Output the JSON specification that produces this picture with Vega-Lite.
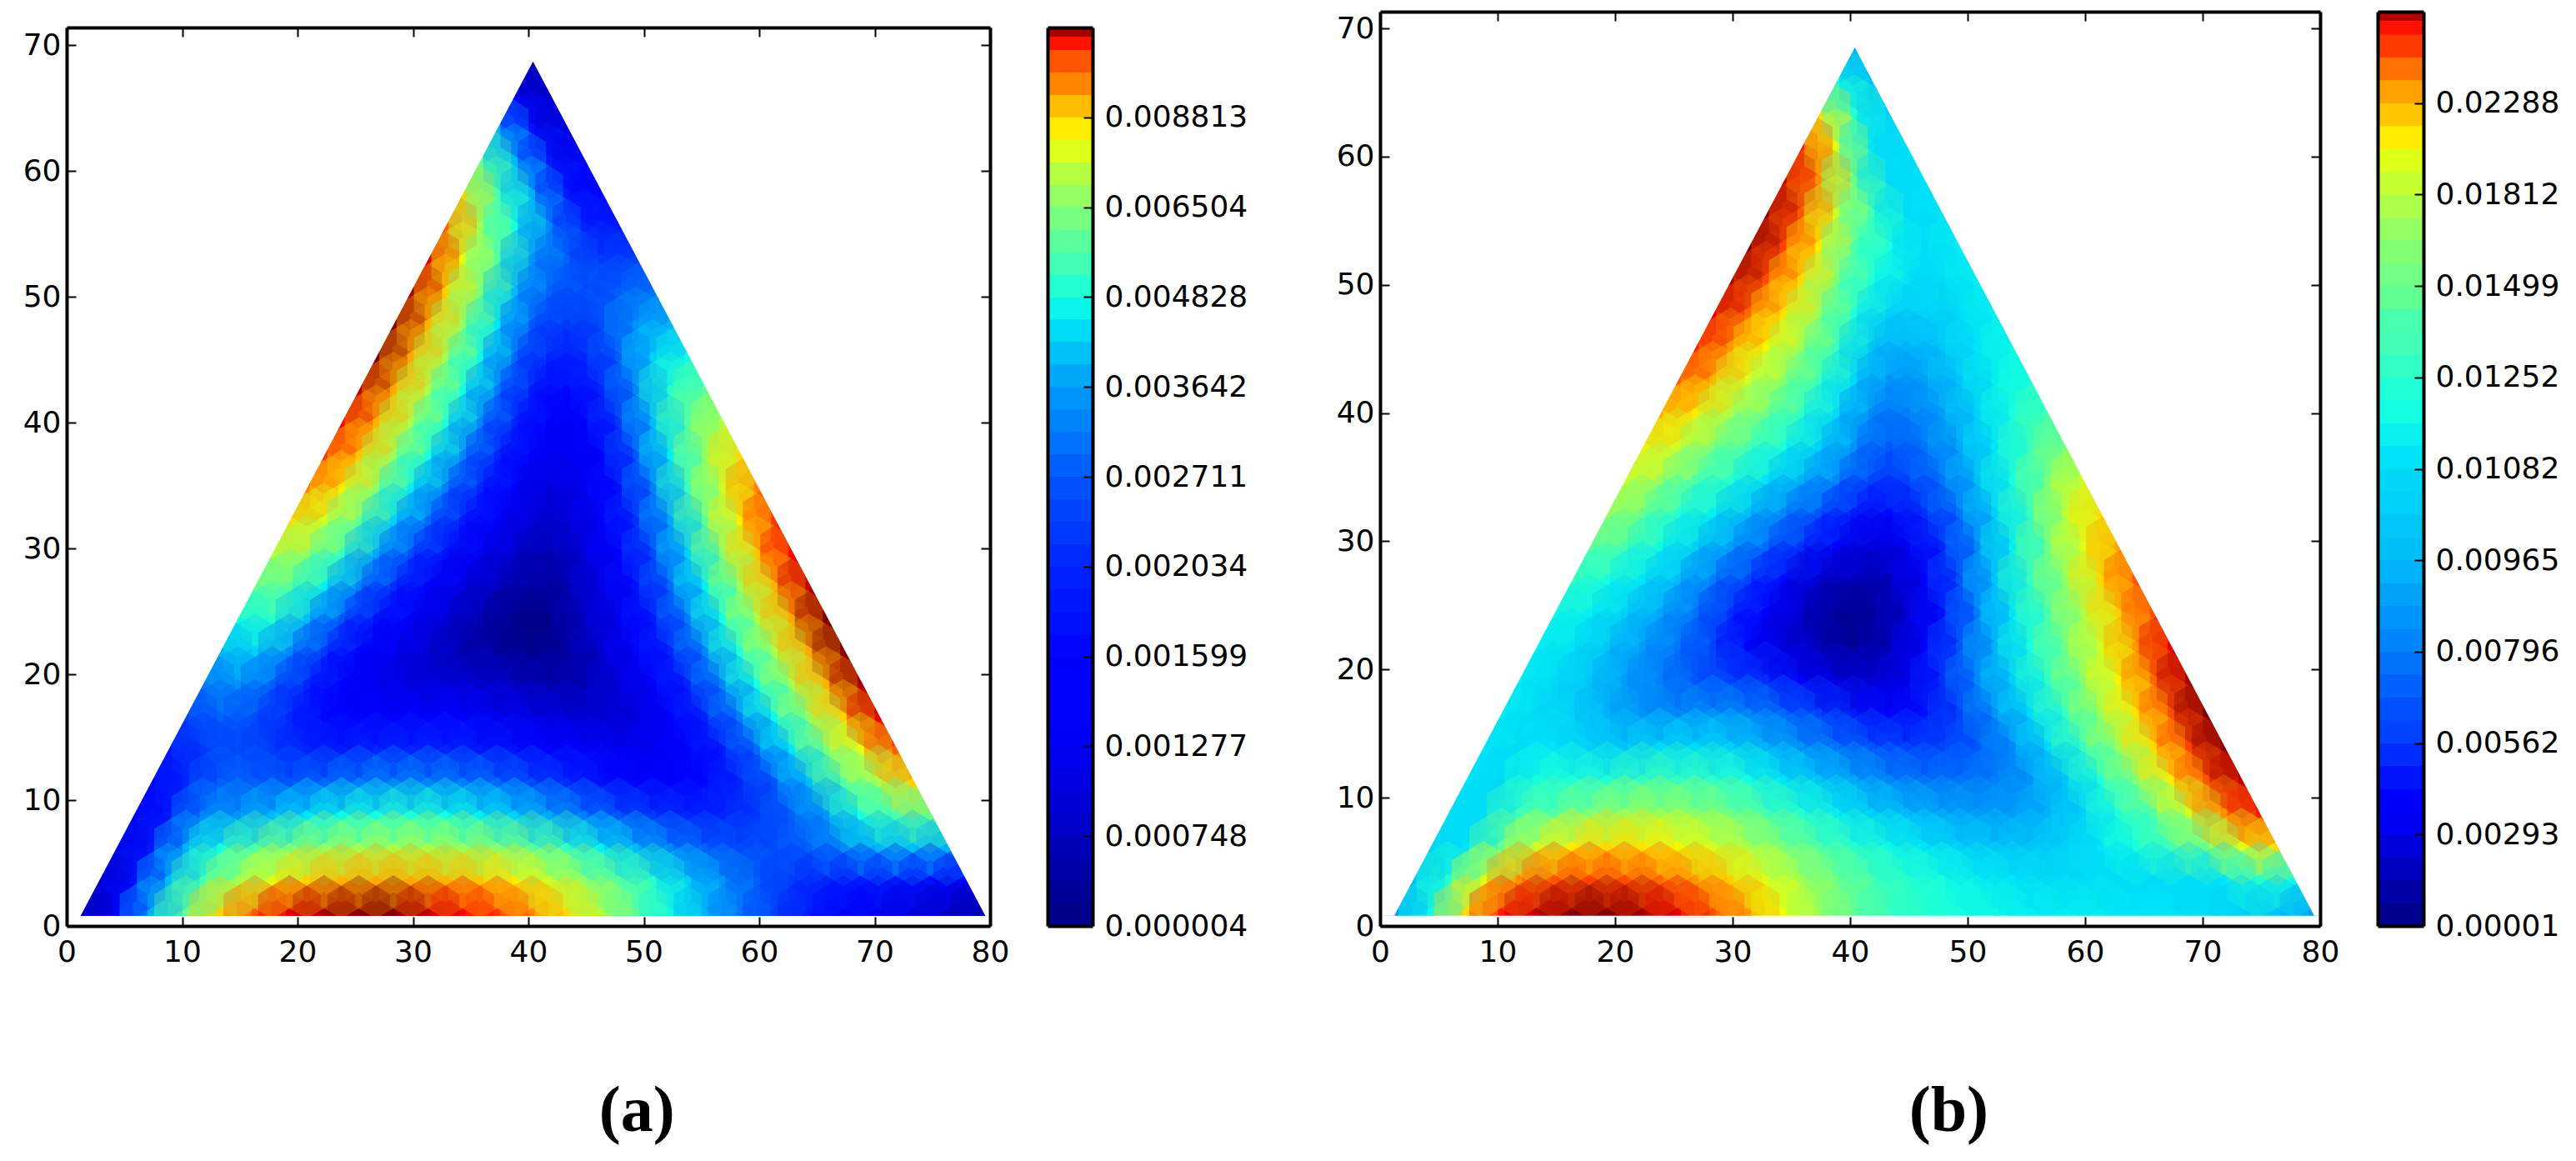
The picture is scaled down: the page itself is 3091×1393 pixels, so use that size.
{"$schema":"https://vega.github.io/schema/vega-lite/v6.json","background":"white","padding":{"left":27,"top":13,"right":5,"bottom":5},"bounds":"flush","spacing":69,
"config":{"view":{"stroke":null},"axis":{"grid":false,"title":null,"labelFont":"DejaVu Sans","labelFontSize":36,"labelColor":"#000","domainColor":"#000","domainWidth":4,"tickColor":"#000","tickWidth":2,"tickSize":11,"labelFlush":false,"labelOverlap":false}},
"datasets":{
"maskA":[{"x":0,"y":0.8},{"x":1.2,"y":0.8},{"x":40.4,"y":68.7},{"x":79.6,"y":0.8},{"x":80,"y":0.8}],
"maskB":[{"x":0,"y":0.8},{"x":1.2,"y":0.8},{"x":40.4,"y":68.5},{"x":79.5,"y":0.8},{"x":80,"y":0.8}],
"base":[{"x":0},{"x":80}],
"barA":[{"p":0,"q":0.25,"c":1},{"p":0.25,"q":0.5,"c":2},{"p":0.5,"q":0.75,"c":3.5},{"p":0.75,"q":1,"c":5},{"p":1,"q":1.25,"c":6.5},{"p":1.25,"q":1.5,"c":7.5},{"p":1.5,"q":1.75,"c":8.5},{"p":1.75,"q":2,"c":9.5},{"p":2,"q":2.25,"c":10.3},{"p":2.25,"q":2.5,"c":11},{"p":2.5,"q":2.75,"c":11.6},{"p":2.75,"q":3,"c":12.2},{"p":3,"q":3.25,"c":13},{"p":3.25,"q":3.5,"c":14},{"p":3.5,"q":3.75,"c":14.8},{"p":3.75,"q":4,"c":15.6},{"p":4,"q":4.25,"c":16.7},{"p":4.25,"q":4.5,"c":18},{"p":4.5,"q":4.75,"c":19.3},{"p":4.75,"q":5,"c":20.5},{"p":5,"q":5.25,"c":22},{"p":5.25,"q":5.5,"c":23.7},{"p":5.5,"q":5.75,"c":25.5},{"p":5.75,"q":6,"c":27},{"p":6,"q":6.25,"c":29},{"p":6.25,"q":6.5,"c":31.5},{"p":6.5,"q":6.75,"c":34},{"p":6.75,"q":7,"c":36.5},{"p":7,"q":7.25,"c":39.5},{"p":7.25,"q":7.5,"c":43},{"p":7.5,"q":7.75,"c":46},{"p":7.75,"q":8,"c":49.5},{"p":8,"q":8.25,"c":53},{"p":8.25,"q":8.5,"c":57},{"p":8.5,"q":8.75,"c":62},{"p":8.75,"q":9,"c":66},{"p":9,"q":9.25,"c":71},{"p":9.25,"q":9.5,"c":77},{"p":9.5,"q":9.75,"c":82},{"p":9.75,"q":9.9,"c":89},{"p":9.9,"q":10,"c":97}],
"barB":[{"p":0,"q":0.25,"c":1.1},{"p":0.25,"q":0.5,"c":3.4},{"p":0.5,"q":0.75,"c":5.6},{"p":0.75,"q":1,"c":7.9},{"p":1,"q":1.25,"c":10},{"p":1.25,"q":1.5,"c":12.5},{"p":1.5,"q":1.75,"c":14.5},{"p":1.75,"q":2,"c":16.8},{"p":2,"q":2.25,"c":19},{"p":2.25,"q":2.5,"c":20.5},{"p":2.5,"q":2.75,"c":22},{"p":2.75,"q":3,"c":24},{"p":3,"q":3.25,"c":25.7},{"p":3.25,"q":3.5,"c":27},{"p":3.5,"q":3.75,"c":28.5},{"p":3.75,"q":4,"c":30},{"p":4,"q":4.25,"c":31.4},{"p":4.25,"q":4.5,"c":32},{"p":4.5,"q":4.75,"c":33},{"p":4.75,"q":5,"c":33.6},{"p":5,"q":5.25,"c":34.7},{"p":5.25,"q":5.5,"c":36},{"p":5.5,"q":5.75,"c":37.5},{"p":5.75,"q":6,"c":39},{"p":6,"q":6.25,"c":41},{"p":6.25,"q":6.5,"c":43},{"p":6.5,"q":6.75,"c":44},{"p":6.75,"q":7,"c":47},{"p":7,"q":7.25,"c":49},{"p":7.25,"q":7.5,"c":51},{"p":7.5,"q":7.75,"c":53},{"p":7.75,"q":8,"c":56},{"p":8,"q":8.25,"c":59},{"p":8.25,"q":8.5,"c":62},{"p":8.5,"q":8.75,"c":66},{"p":8.75,"q":9,"c":70},{"p":9,"q":9.25,"c":74},{"p":9.25,"q":9.5,"c":79},{"p":9.5,"q":9.75,"c":85},{"p":9.75,"q":9.9,"c":89},{"p":9.9,"q":10,"c":96}],
"a":[
{"x":1.3,"y":1,"c":3},{"x":4.3,"y":1,"c":12},{"x":7.3,"y":1,"c":30},{"x":10.3,"y":1,"c":48},{"x":13.3,"y":1,"c":69},{"x":16.3,"y":1,"c":81},{"x":19.3,"y":1,"c":92},{"x":22.3,"y":1,"c":97},{"x":25.3,"y":1,"c":99},{"x":28.3,"y":1,"c":100},{"x":31.3,"y":1,"c":95},{"x":34.3,"y":1,"c":90},{"x":37.3,"y":1,"c":85},{"x":40.3,"y":1,"c":77},{"x":43.3,"y":1,"c":68},{"x":46.3,"y":1,"c":57},{"x":49.3,"y":1,"c":47},{"x":52.3,"y":1,"c":37},{"x":55.3,"y":1,"c":30},{"x":58.3,"y":1,"c":24},{"x":61.3,"y":1,"c":19},{"x":64.3,"y":1,"c":15},{"x":67.3,"y":1,"c":12},{"x":70.3,"y":1,"c":10},{"x":73.3,"y":1,"c":8},{"x":76.3,"y":1,"c":6},{"x":79.3,"y":1,"c":3},
{"x":2.8,"y":3.6,"c":6},{"x":5.8,"y":3.6,"c":14},{"x":8.8,"y":3.6,"c":31},{"x":11.8,"y":3.6,"c":44},{"x":14.8,"y":3.6,"c":55},{"x":17.8,"y":3.6,"c":63},{"x":20.8,"y":3.6,"c":69},{"x":23.8,"y":3.6,"c":72},{"x":26.8,"y":3.6,"c":73},{"x":29.8,"y":3.6,"c":73},{"x":32.8,"y":3.6,"c":72},{"x":35.8,"y":3.6,"c":70},{"x":38.8,"y":3.6,"c":66},{"x":41.8,"y":3.6,"c":60},{"x":44.8,"y":3.6,"c":53},{"x":47.8,"y":3.6,"c":46},{"x":50.8,"y":3.6,"c":40},{"x":53.8,"y":3.6,"c":33},{"x":56.8,"y":3.6,"c":27},{"x":59.8,"y":3.6,"c":22},{"x":62.8,"y":3.6,"c":18},{"x":65.8,"y":3.6,"c":16},{"x":68.8,"y":3.6,"c":15},{"x":71.8,"y":3.6,"c":15},{"x":74.8,"y":3.6,"c":14},{"x":77.8,"y":3.6,"c":12},
{"x":4.3,"y":6.2,"c":8},{"x":7.3,"y":6.2,"c":15},{"x":10.3,"y":6.2,"c":30},{"x":13.3,"y":6.2,"c":38},{"x":16.3,"y":6.2,"c":45},{"x":19.3,"y":6.2,"c":50},{"x":22.3,"y":6.2,"c":53},{"x":25.3,"y":6.2,"c":55},{"x":28.3,"y":6.2,"c":56},{"x":31.3,"y":6.2,"c":56},{"x":34.3,"y":6.2,"c":54},{"x":37.3,"y":6.2,"c":52},{"x":40.3,"y":6.2,"c":47},{"x":43.3,"y":6.2,"c":42},{"x":46.3,"y":6.2,"c":36},{"x":49.3,"y":6.2,"c":31},{"x":52.3,"y":6.2,"c":26},{"x":55.3,"y":6.2,"c":22},{"x":58.3,"y":6.2,"c":20},{"x":61.3,"y":6.2,"c":20},{"x":64.3,"y":6.2,"c":22},{"x":67.3,"y":6.2,"c":26},{"x":70.3,"y":6.2,"c":30},{"x":73.3,"y":6.2,"c":31},{"x":76.3,"y":6.2,"c":30},
{"x":5.8,"y":8.8,"c":10},{"x":8.8,"y":8.8,"c":15},{"x":11.8,"y":8.8,"c":26},{"x":14.8,"y":8.8,"c":27},{"x":17.8,"y":8.8,"c":31},{"x":20.8,"y":8.8,"c":35},{"x":23.8,"y":8.8,"c":37},{"x":26.8,"y":8.8,"c":38},{"x":29.8,"y":8.8,"c":39},{"x":32.8,"y":8.8,"c":38},{"x":35.8,"y":8.8,"c":36},{"x":38.8,"y":8.8,"c":33},{"x":41.8,"y":8.8,"c":29},{"x":44.8,"y":8.8,"c":25},{"x":47.8,"y":8.8,"c":21},{"x":50.8,"y":8.8,"c":18},{"x":53.8,"y":8.8,"c":16},{"x":56.8,"y":8.8,"c":16},{"x":59.8,"y":8.8,"c":18},{"x":62.8,"y":8.8,"c":22},{"x":65.8,"y":8.8,"c":27},{"x":68.8,"y":8.8,"c":38},{"x":71.8,"y":8.8,"c":44},{"x":74.8,"y":8.8,"c":48},
{"x":7.3,"y":11.4,"c":12},{"x":10.3,"y":11.4,"c":16},{"x":13.3,"y":11.4,"c":22},{"x":16.3,"y":11.4,"c":22},{"x":19.3,"y":11.4,"c":21},{"x":22.3,"y":11.4,"c":23},{"x":25.3,"y":11.4,"c":25},{"x":28.3,"y":11.4,"c":26},{"x":31.3,"y":11.4,"c":26},{"x":34.3,"y":11.4,"c":25},{"x":37.3,"y":11.4,"c":23},{"x":40.3,"y":11.4,"c":20},{"x":43.3,"y":11.4,"c":17},{"x":46.3,"y":11.4,"c":14},{"x":49.3,"y":11.4,"c":12},{"x":52.3,"y":11.4,"c":12},{"x":55.3,"y":11.4,"c":13},{"x":58.3,"y":11.4,"c":16},{"x":61.3,"y":11.4,"c":21},{"x":64.3,"y":11.4,"c":31},{"x":67.3,"y":11.4,"c":45},{"x":70.3,"y":11.4,"c":55},{"x":73.3,"y":11.4,"c":69},
{"x":8.8,"y":14,"c":15},{"x":11.8,"y":14,"c":18},{"x":14.8,"y":14,"c":20},{"x":17.8,"y":14,"c":18},{"x":20.8,"y":14,"c":16},{"x":23.8,"y":14,"c":15},{"x":26.8,"y":14,"c":16},{"x":29.8,"y":14,"c":16},{"x":32.8,"y":14,"c":16},{"x":35.8,"y":14,"c":15},{"x":38.8,"y":14,"c":14},{"x":41.8,"y":14,"c":12},{"x":44.8,"y":14,"c":11},{"x":47.8,"y":14,"c":10},{"x":50.8,"y":14,"c":10},{"x":53.8,"y":14,"c":11},{"x":56.8,"y":14,"c":15},{"x":59.8,"y":14,"c":23},{"x":62.8,"y":14,"c":35},{"x":65.8,"y":14,"c":50},{"x":68.8,"y":14,"c":63},{"x":71.8,"y":14,"c":81},
{"x":10.3,"y":16.6,"c":19},{"x":13.3,"y":16.6,"c":22},{"x":16.3,"y":16.6,"c":20},{"x":19.3,"y":16.6,"c":16},{"x":22.3,"y":16.6,"c":13},{"x":25.3,"y":16.6,"c":11},{"x":28.3,"y":16.6,"c":11},{"x":31.3,"y":16.6,"c":12},{"x":34.3,"y":16.6,"c":11},{"x":37.3,"y":16.6,"c":10},{"x":40.3,"y":16.6,"c":9},{"x":43.3,"y":16.6,"c":8},{"x":46.3,"y":16.6,"c":7},{"x":49.3,"y":16.6,"c":8},{"x":52.3,"y":16.6,"c":11},{"x":55.3,"y":16.6,"c":16},{"x":58.3,"y":16.6,"c":25},{"x":61.3,"y":16.6,"c":37},{"x":64.3,"y":16.6,"c":53},{"x":67.3,"y":16.6,"c":69},{"x":70.3,"y":16.6,"c":92},
{"x":11.8,"y":19.2,"c":24},{"x":14.8,"y":19.2,"c":27},{"x":17.8,"y":19.2,"c":22},{"x":20.8,"y":19.2,"c":16},{"x":23.8,"y":19.2,"c":12},{"x":26.8,"y":19.2,"c":10},{"x":29.8,"y":19.2,"c":8},{"x":32.8,"y":19.2,"c":8},{"x":35.8,"y":19.2,"c":7},{"x":38.8,"y":19.2,"c":6},{"x":41.8,"y":19.2,"c":4},{"x":44.8,"y":19.2,"c":4},{"x":47.8,"y":19.2,"c":8},{"x":50.8,"y":19.2,"c":12},{"x":53.8,"y":19.2,"c":16},{"x":56.8,"y":19.2,"c":26},{"x":59.8,"y":19.2,"c":38},{"x":62.8,"y":19.2,"c":55},{"x":65.8,"y":19.2,"c":72},{"x":68.8,"y":19.2,"c":97},
{"x":13.3,"y":21.8,"c":30},{"x":16.3,"y":21.8,"c":33},{"x":19.3,"y":21.8,"c":26},{"x":22.3,"y":21.8,"c":18},{"x":25.3,"y":21.8,"c":12},{"x":28.3,"y":21.8,"c":10},{"x":31.3,"y":21.8,"c":7},{"x":34.3,"y":21.8,"c":4},{"x":37.3,"y":21.8,"c":3},{"x":40.3,"y":21.8,"c":1},{"x":43.3,"y":21.8,"c":3},{"x":46.3,"y":21.8,"c":7},{"x":49.3,"y":21.8,"c":11},{"x":52.3,"y":21.8,"c":16},{"x":55.3,"y":21.8,"c":26},{"x":58.3,"y":21.8,"c":39},{"x":61.3,"y":21.8,"c":56},{"x":64.3,"y":21.8,"c":73},{"x":67.3,"y":21.8,"c":99},
{"x":14.8,"y":24.4,"c":37},{"x":17.8,"y":24.4,"c":40},{"x":20.8,"y":24.4,"c":31},{"x":23.8,"y":24.4,"c":21},{"x":26.8,"y":24.4,"c":14},{"x":29.8,"y":24.4,"c":11},{"x":32.8,"y":24.4,"c":8},{"x":35.8,"y":24.4,"c":4},{"x":38.8,"y":24.4,"c":1},{"x":41.8,"y":24.4,"c":1},{"x":44.8,"y":24.4,"c":6},{"x":47.8,"y":24.4,"c":10},{"x":50.8,"y":24.4,"c":15},{"x":53.8,"y":24.4,"c":25},{"x":56.8,"y":24.4,"c":38},{"x":59.8,"y":24.4,"c":56},{"x":62.8,"y":24.4,"c":73},{"x":65.8,"y":24.4,"c":100},
{"x":16.3,"y":27,"c":47},{"x":19.3,"y":27,"c":46},{"x":22.3,"y":27,"c":36},{"x":25.3,"y":27,"c":25},{"x":28.3,"y":27,"c":17},{"x":31.3,"y":27,"c":12},{"x":34.3,"y":27,"c":9},{"x":37.3,"y":27,"c":6},{"x":40.3,"y":27,"c":3},{"x":43.3,"y":27,"c":4},{"x":46.3,"y":27,"c":9},{"x":49.3,"y":27,"c":14},{"x":52.3,"y":27,"c":23},{"x":55.3,"y":27,"c":36},{"x":58.3,"y":27,"c":54},{"x":61.3,"y":27,"c":72},{"x":64.3,"y":27,"c":95},
{"x":17.8,"y":29.6,"c":57},{"x":20.8,"y":29.6,"c":53},{"x":23.8,"y":29.6,"c":42},{"x":26.8,"y":29.6,"c":29},{"x":29.8,"y":29.6,"c":20},{"x":32.8,"y":29.6,"c":14},{"x":35.8,"y":29.6,"c":10},{"x":38.8,"y":29.6,"c":7},{"x":41.8,"y":29.6,"c":4},{"x":44.8,"y":29.6,"c":8},{"x":47.8,"y":29.6,"c":12},{"x":50.8,"y":29.6,"c":20},{"x":53.8,"y":29.6,"c":33},{"x":56.8,"y":29.6,"c":52},{"x":59.8,"y":29.6,"c":70},{"x":62.8,"y":29.6,"c":90},
{"x":19.3,"y":32.2,"c":68},{"x":22.3,"y":32.2,"c":60},{"x":25.3,"y":32.2,"c":47},{"x":28.3,"y":32.2,"c":33},{"x":31.3,"y":32.2,"c":23},{"x":34.3,"y":32.2,"c":15},{"x":37.3,"y":32.2,"c":11},{"x":40.3,"y":32.2,"c":8},{"x":43.3,"y":32.2,"c":7},{"x":46.3,"y":32.2,"c":11},{"x":49.3,"y":32.2,"c":17},{"x":52.3,"y":32.2,"c":29},{"x":55.3,"y":32.2,"c":47},{"x":58.3,"y":32.2,"c":66},{"x":61.3,"y":32.2,"c":85},
{"x":20.8,"y":34.8,"c":77},{"x":23.8,"y":34.8,"c":66},{"x":26.8,"y":34.8,"c":52},{"x":29.8,"y":34.8,"c":36},{"x":32.8,"y":34.8,"c":25},{"x":35.8,"y":34.8,"c":16},{"x":38.8,"y":34.8,"c":12},{"x":41.8,"y":34.8,"c":8},{"x":44.8,"y":34.8,"c":10},{"x":47.8,"y":34.8,"c":14},{"x":50.8,"y":34.8,"c":25},{"x":53.8,"y":34.8,"c":42},{"x":56.8,"y":34.8,"c":60},{"x":59.8,"y":34.8,"c":77},
{"x":22.3,"y":37.4,"c":85},{"x":25.3,"y":37.4,"c":70},{"x":28.3,"y":37.4,"c":54},{"x":31.3,"y":37.4,"c":38},{"x":34.3,"y":37.4,"c":26},{"x":37.3,"y":37.4,"c":16},{"x":40.3,"y":37.4,"c":11},{"x":43.3,"y":37.4,"c":10},{"x":46.3,"y":37.4,"c":12},{"x":49.3,"y":37.4,"c":21},{"x":52.3,"y":37.4,"c":36},{"x":55.3,"y":37.4,"c":53},{"x":58.3,"y":37.4,"c":68},
{"x":23.8,"y":40,"c":90},{"x":26.8,"y":40,"c":72},{"x":29.8,"y":40,"c":56},{"x":32.8,"y":40,"c":39},{"x":35.8,"y":40,"c":26},{"x":38.8,"y":40,"c":16},{"x":41.8,"y":40,"c":11},{"x":44.8,"y":40,"c":12},{"x":47.8,"y":40,"c":18},{"x":50.8,"y":40,"c":31},{"x":53.8,"y":40,"c":46},{"x":56.8,"y":40,"c":57},
{"x":25.3,"y":42.6,"c":95},{"x":28.3,"y":42.6,"c":73},{"x":31.3,"y":42.6,"c":56},{"x":34.3,"y":42.6,"c":38},{"x":37.3,"y":42.6,"c":25},{"x":40.3,"y":42.6,"c":15},{"x":43.3,"y":42.6,"c":13},{"x":46.3,"y":42.6,"c":16},{"x":49.3,"y":42.6,"c":26},{"x":52.3,"y":42.6,"c":40},{"x":55.3,"y":42.6,"c":47},
{"x":26.8,"y":45.2,"c":100},{"x":29.8,"y":45.2,"c":73},{"x":32.8,"y":45.2,"c":55},{"x":35.8,"y":45.2,"c":37},{"x":38.8,"y":45.2,"c":23},{"x":41.8,"y":45.2,"c":16},{"x":44.8,"y":45.2,"c":16},{"x":47.8,"y":45.2,"c":22},{"x":50.8,"y":45.2,"c":33},{"x":53.8,"y":45.2,"c":37},
{"x":28.3,"y":47.8,"c":99},{"x":31.3,"y":47.8,"c":72},{"x":34.3,"y":47.8,"c":53},{"x":37.3,"y":47.8,"c":35},{"x":40.3,"y":47.8,"c":21},{"x":43.3,"y":47.8,"c":18},{"x":46.3,"y":47.8,"c":20},{"x":49.3,"y":47.8,"c":27},{"x":52.3,"y":47.8,"c":30},
{"x":29.8,"y":50.4,"c":97},{"x":32.8,"y":50.4,"c":69},{"x":35.8,"y":50.4,"c":50},{"x":38.8,"y":50.4,"c":31},{"x":41.8,"y":50.4,"c":22},{"x":44.8,"y":50.4,"c":20},{"x":47.8,"y":50.4,"c":22},{"x":50.8,"y":50.4,"c":24},
{"x":31.3,"y":53,"c":92},{"x":34.3,"y":53,"c":63},{"x":37.3,"y":53,"c":45},{"x":40.3,"y":53,"c":27},{"x":43.3,"y":53,"c":22},{"x":46.3,"y":53,"c":18},{"x":49.3,"y":53,"c":19},
{"x":32.8,"y":55.6,"c":81},{"x":35.8,"y":55.6,"c":55},{"x":38.8,"y":55.6,"c":38},{"x":41.8,"y":55.6,"c":26},{"x":44.8,"y":55.6,"c":16},{"x":47.8,"y":55.6,"c":15},
{"x":34.3,"y":58.2,"c":69},{"x":37.3,"y":58.2,"c":44},{"x":40.3,"y":58.2,"c":30},{"x":43.3,"y":58.2,"c":15},{"x":46.3,"y":58.2,"c":12},
{"x":35.8,"y":60.8,"c":48},{"x":38.8,"y":60.8,"c":31},{"x":41.8,"y":60.8,"c":15},{"x":44.8,"y":60.8,"c":10},
{"x":37.3,"y":63.4,"c":30},{"x":40.3,"y":63.4,"c":14},{"x":43.3,"y":63.4,"c":8},
{"x":38.8,"y":66,"c":12},{"x":41.8,"y":66,"c":6},
{"x":40.3,"y":68.6,"c":3}
],
"b":[
{"x":1.3,"y":1,"c":28},{"x":4.3,"y":1,"c":37},{"x":7.3,"y":1,"c":68},{"x":10.3,"y":1,"c":88},{"x":13.3,"y":1,"c":95},{"x":16.3,"y":1,"c":99},{"x":19.3,"y":1,"c":100},{"x":22.3,"y":1,"c":97},{"x":25.3,"y":1,"c":92},{"x":28.3,"y":1,"c":83},{"x":31.3,"y":1,"c":75},{"x":34.3,"y":1,"c":64},{"x":37.3,"y":1,"c":54},{"x":40.3,"y":1,"c":47},{"x":43.3,"y":1,"c":42},{"x":46.3,"y":1,"c":40},{"x":49.3,"y":1,"c":38},{"x":52.3,"y":1,"c":37},{"x":55.3,"y":1,"c":36},{"x":58.3,"y":1,"c":36},{"x":61.3,"y":1,"c":36},{"x":64.3,"y":1,"c":35},{"x":67.3,"y":1,"c":35},{"x":70.3,"y":1,"c":34},{"x":73.3,"y":1,"c":33},{"x":76.3,"y":1,"c":32},{"x":79.3,"y":1,"c":28},
{"x":2.8,"y":3.6,"c":32},{"x":5.8,"y":3.6,"c":40},{"x":8.8,"y":3.6,"c":62},{"x":11.8,"y":3.6,"c":76},{"x":14.8,"y":3.6,"c":82},{"x":17.8,"y":3.6,"c":84},{"x":20.8,"y":3.6,"c":83},{"x":23.8,"y":3.6,"c":80},{"x":26.8,"y":3.6,"c":75},{"x":29.8,"y":3.6,"c":69},{"x":32.8,"y":3.6,"c":62},{"x":35.8,"y":3.6,"c":55},{"x":38.8,"y":3.6,"c":49},{"x":41.8,"y":3.6,"c":44},{"x":44.8,"y":3.6,"c":40},{"x":47.8,"y":3.6,"c":38},{"x":50.8,"y":3.6,"c":36},{"x":53.8,"y":3.6,"c":35},{"x":56.8,"y":3.6,"c":34},{"x":59.8,"y":3.6,"c":34},{"x":62.8,"y":3.6,"c":34},{"x":65.8,"y":3.6,"c":34},{"x":68.8,"y":3.6,"c":34},{"x":71.8,"y":3.6,"c":35},{"x":74.8,"y":3.6,"c":40},{"x":77.8,"y":3.6,"c":37},
{"x":4.3,"y":6.2,"c":33},{"x":7.3,"y":6.2,"c":35},{"x":10.3,"y":6.2,"c":48},{"x":13.3,"y":6.2,"c":60},{"x":16.3,"y":6.2,"c":66},{"x":19.3,"y":6.2,"c":68},{"x":22.3,"y":6.2,"c":67},{"x":25.3,"y":6.2,"c":65},{"x":28.3,"y":6.2,"c":61},{"x":31.3,"y":6.2,"c":56},{"x":34.3,"y":6.2,"c":50},{"x":37.3,"y":6.2,"c":45},{"x":40.3,"y":6.2,"c":40},{"x":43.3,"y":6.2,"c":37},{"x":46.3,"y":6.2,"c":35},{"x":49.3,"y":6.2,"c":33},{"x":52.3,"y":6.2,"c":32},{"x":55.3,"y":6.2,"c":32},{"x":58.3,"y":6.2,"c":33},{"x":61.3,"y":6.2,"c":35},{"x":64.3,"y":6.2,"c":38},{"x":67.3,"y":6.2,"c":43},{"x":70.3,"y":6.2,"c":48},{"x":73.3,"y":6.2,"c":62},{"x":76.3,"y":6.2,"c":68},
{"x":5.8,"y":8.8,"c":34},{"x":8.8,"y":8.8,"c":34},{"x":11.8,"y":8.8,"c":43},{"x":14.8,"y":8.8,"c":45},{"x":17.8,"y":8.8,"c":51},{"x":20.8,"y":8.8,"c":54},{"x":23.8,"y":8.8,"c":54},{"x":26.8,"y":8.8,"c":52},{"x":29.8,"y":8.8,"c":49},{"x":32.8,"y":8.8,"c":44},{"x":35.8,"y":8.8,"c":40},{"x":38.8,"y":8.8,"c":36},{"x":41.8,"y":8.8,"c":33},{"x":44.8,"y":8.8,"c":31},{"x":47.8,"y":8.8,"c":29},{"x":50.8,"y":8.8,"c":28},{"x":53.8,"y":8.8,"c":28},{"x":56.8,"y":8.8,"c":30},{"x":59.8,"y":8.8,"c":33},{"x":62.8,"y":8.8,"c":39},{"x":65.8,"y":8.8,"c":45},{"x":68.8,"y":8.8,"c":60},{"x":71.8,"y":8.8,"c":76},{"x":74.8,"y":8.8,"c":88},
{"x":7.3,"y":11.4,"c":35},{"x":10.3,"y":11.4,"c":34},{"x":13.3,"y":11.4,"c":38},{"x":16.3,"y":11.4,"c":39},{"x":19.3,"y":11.4,"c":39},{"x":22.3,"y":11.4,"c":42},{"x":25.3,"y":11.4,"c":42},{"x":28.3,"y":11.4,"c":41},{"x":31.3,"y":11.4,"c":38},{"x":34.3,"y":11.4,"c":35},{"x":37.3,"y":11.4,"c":32},{"x":40.3,"y":11.4,"c":29},{"x":43.3,"y":11.4,"c":26},{"x":46.3,"y":11.4,"c":24},{"x":49.3,"y":11.4,"c":24},{"x":52.3,"y":11.4,"c":25},{"x":55.3,"y":11.4,"c":27},{"x":58.3,"y":11.4,"c":32},{"x":61.3,"y":11.4,"c":39},{"x":64.3,"y":11.4,"c":51},{"x":67.3,"y":11.4,"c":66},{"x":70.3,"y":11.4,"c":82},{"x":73.3,"y":11.4,"c":95},
{"x":8.8,"y":14,"c":35},{"x":11.8,"y":14,"c":34},{"x":14.8,"y":14,"c":35},{"x":17.8,"y":14,"c":33},{"x":20.8,"y":14,"c":32},{"x":23.8,"y":14,"c":34},{"x":26.8,"y":14,"c":34},{"x":29.8,"y":14,"c":33},{"x":32.8,"y":14,"c":30},{"x":35.8,"y":14,"c":27},{"x":38.8,"y":14,"c":24},{"x":41.8,"y":14,"c":21},{"x":44.8,"y":14,"c":19},{"x":47.8,"y":14,"c":19},{"x":50.8,"y":14,"c":21},{"x":53.8,"y":14,"c":26},{"x":56.8,"y":14,"c":34},{"x":59.8,"y":14,"c":42},{"x":62.8,"y":14,"c":54},{"x":65.8,"y":14,"c":68},{"x":68.8,"y":14,"c":84},{"x":71.8,"y":14,"c":99},
{"x":10.3,"y":16.6,"c":36},{"x":13.3,"y":16.6,"c":34},{"x":16.3,"y":16.6,"c":33},{"x":19.3,"y":16.6,"c":30},{"x":22.3,"y":16.6,"c":27},{"x":25.3,"y":16.6,"c":26},{"x":28.3,"y":16.6,"c":27},{"x":31.3,"y":16.6,"c":26},{"x":34.3,"y":16.6,"c":23},{"x":37.3,"y":16.6,"c":19},{"x":40.3,"y":16.6,"c":15},{"x":43.3,"y":16.6,"c":12},{"x":46.3,"y":16.6,"c":14},{"x":49.3,"y":16.6,"c":19},{"x":52.3,"y":16.6,"c":27},{"x":55.3,"y":16.6,"c":34},{"x":58.3,"y":16.6,"c":42},{"x":61.3,"y":16.6,"c":54},{"x":64.3,"y":16.6,"c":67},{"x":67.3,"y":16.6,"c":83},{"x":70.3,"y":16.6,"c":100},
{"x":11.8,"y":19.2,"c":36},{"x":14.8,"y":19.2,"c":34},{"x":17.8,"y":19.2,"c":32},{"x":20.8,"y":19.2,"c":28},{"x":23.8,"y":19.2,"c":25},{"x":26.8,"y":19.2,"c":21},{"x":29.8,"y":19.2,"c":19},{"x":32.8,"y":19.2,"c":17},{"x":35.8,"y":19.2,"c":12},{"x":38.8,"y":19.2,"c":8},{"x":41.8,"y":19.2,"c":7},{"x":44.8,"y":19.2,"c":9},{"x":47.8,"y":19.2,"c":17},{"x":50.8,"y":19.2,"c":26},{"x":53.8,"y":19.2,"c":33},{"x":56.8,"y":19.2,"c":41},{"x":59.8,"y":19.2,"c":52},{"x":62.8,"y":19.2,"c":65},{"x":65.8,"y":19.2,"c":80},{"x":68.8,"y":19.2,"c":97},
{"x":13.3,"y":21.8,"c":36},{"x":16.3,"y":21.8,"c":35},{"x":19.3,"y":21.8,"c":32},{"x":22.3,"y":21.8,"c":28},{"x":25.3,"y":21.8,"c":24},{"x":28.3,"y":21.8,"c":19},{"x":31.3,"y":21.8,"c":12},{"x":34.3,"y":21.8,"c":8},{"x":37.3,"y":21.8,"c":5},{"x":40.3,"y":21.8,"c":2},{"x":43.3,"y":21.8,"c":5},{"x":46.3,"y":21.8,"c":11},{"x":49.3,"y":21.8,"c":21},{"x":52.3,"y":21.8,"c":30},{"x":55.3,"y":21.8,"c":38},{"x":58.3,"y":21.8,"c":49},{"x":61.3,"y":21.8,"c":61},{"x":64.3,"y":21.8,"c":75},{"x":67.3,"y":21.8,"c":92},
{"x":14.8,"y":24.4,"c":37},{"x":17.8,"y":24.4,"c":36},{"x":20.8,"y":24.4,"c":33},{"x":23.8,"y":24.4,"c":29},{"x":26.8,"y":24.4,"c":24},{"x":29.8,"y":24.4,"c":17},{"x":32.8,"y":24.4,"c":11},{"x":35.8,"y":24.4,"c":7},{"x":38.8,"y":24.4,"c":2},{"x":41.8,"y":24.4,"c":2},{"x":44.8,"y":24.4,"c":7},{"x":47.8,"y":24.4,"c":14},{"x":50.8,"y":24.4,"c":25},{"x":53.8,"y":24.4,"c":35},{"x":56.8,"y":24.4,"c":44},{"x":59.8,"y":24.4,"c":56},{"x":62.8,"y":24.4,"c":69},{"x":65.8,"y":24.4,"c":83},
{"x":16.3,"y":27,"c":42},{"x":19.3,"y":27,"c":38},{"x":22.3,"y":27,"c":35},{"x":25.3,"y":27,"c":31},{"x":28.3,"y":27,"c":25},{"x":31.3,"y":27,"c":19},{"x":34.3,"y":27,"c":13},{"x":37.3,"y":27,"c":7},{"x":40.3,"y":27,"c":5},{"x":43.3,"y":27,"c":5},{"x":46.3,"y":27,"c":11},{"x":49.3,"y":27,"c":21},{"x":52.3,"y":27,"c":32},{"x":55.3,"y":27,"c":42},{"x":58.3,"y":27,"c":53},{"x":61.3,"y":27,"c":68},{"x":64.3,"y":27,"c":82},
{"x":17.8,"y":29.6,"c":47},{"x":20.8,"y":29.6,"c":44},{"x":23.8,"y":29.6,"c":37},{"x":26.8,"y":29.6,"c":33},{"x":29.8,"y":29.6,"c":28},{"x":32.8,"y":29.6,"c":23},{"x":35.8,"y":29.6,"c":17},{"x":38.8,"y":29.6,"c":12},{"x":41.8,"y":29.6,"c":8},{"x":44.8,"y":29.6,"c":10},{"x":47.8,"y":29.6,"c":16},{"x":50.8,"y":29.6,"c":26},{"x":53.8,"y":29.6,"c":36},{"x":56.8,"y":29.6,"c":48},{"x":59.8,"y":29.6,"c":62},{"x":62.8,"y":29.6,"c":74},
{"x":19.3,"y":32.2,"c":54},{"x":22.3,"y":32.2,"c":48},{"x":25.3,"y":32.2,"c":40},{"x":28.3,"y":32.2,"c":36},{"x":31.3,"y":32.2,"c":31},{"x":34.3,"y":32.2,"c":26},{"x":37.3,"y":32.2,"c":21},{"x":40.3,"y":32.2,"c":15},{"x":43.3,"y":32.2,"c":13},{"x":46.3,"y":32.2,"c":17},{"x":49.3,"y":32.2,"c":24},{"x":52.3,"y":32.2,"c":33},{"x":55.3,"y":32.2,"c":42},{"x":58.3,"y":32.2,"c":58},{"x":61.3,"y":32.2,"c":68},
{"x":20.8,"y":34.8,"c":60},{"x":23.8,"y":34.8,"c":54},{"x":26.8,"y":34.8,"c":45},{"x":29.8,"y":34.8,"c":40},{"x":32.8,"y":34.8,"c":35},{"x":35.8,"y":34.8,"c":30},{"x":38.8,"y":34.8,"c":26},{"x":41.8,"y":34.8,"c":19},{"x":44.8,"y":34.8,"c":19},{"x":47.8,"y":34.8,"c":24},{"x":50.8,"y":34.8,"c":31},{"x":53.8,"y":34.8,"c":38},{"x":56.8,"y":34.8,"c":50},{"x":59.8,"y":34.8,"c":60},
{"x":22.3,"y":37.4,"c":66},{"x":25.3,"y":37.4,"c":60},{"x":28.3,"y":37.4,"c":50},{"x":31.3,"y":37.4,"c":44},{"x":34.3,"y":37.4,"c":38},{"x":37.3,"y":37.4,"c":33},{"x":40.3,"y":37.4,"c":27},{"x":43.3,"y":37.4,"c":21},{"x":46.3,"y":37.4,"c":24},{"x":49.3,"y":37.4,"c":29},{"x":52.3,"y":37.4,"c":35},{"x":55.3,"y":37.4,"c":42},{"x":58.3,"y":37.4,"c":50},
{"x":23.8,"y":40,"c":72},{"x":26.8,"y":40,"c":66},{"x":29.8,"y":40,"c":56},{"x":32.8,"y":40,"c":49},{"x":35.8,"y":40,"c":41},{"x":38.8,"y":40,"c":34},{"x":41.8,"y":40,"c":26},{"x":44.8,"y":40,"c":25},{"x":47.8,"y":40,"c":28},{"x":50.8,"y":40,"c":33},{"x":53.8,"y":40,"c":38},{"x":56.8,"y":40,"c":44},
{"x":25.3,"y":42.6,"c":82},{"x":28.3,"y":42.6,"c":72},{"x":31.3,"y":42.6,"c":61},{"x":34.3,"y":42.6,"c":52},{"x":37.3,"y":42.6,"c":42},{"x":40.3,"y":42.6,"c":34},{"x":43.3,"y":42.6,"c":27},{"x":46.3,"y":42.6,"c":28},{"x":49.3,"y":42.6,"c":32},{"x":52.3,"y":42.6,"c":36},{"x":55.3,"y":42.6,"c":38},
{"x":26.8,"y":45.2,"c":88},{"x":29.8,"y":45.2,"c":75},{"x":32.8,"y":45.2,"c":65},{"x":35.8,"y":45.2,"c":54},{"x":38.8,"y":45.2,"c":42},{"x":41.8,"y":45.2,"c":32},{"x":44.8,"y":45.2,"c":30},{"x":47.8,"y":45.2,"c":32},{"x":50.8,"y":45.2,"c":35},{"x":53.8,"y":45.2,"c":37},
{"x":28.3,"y":47.8,"c":92},{"x":31.3,"y":47.8,"c":80},{"x":34.3,"y":47.8,"c":67},{"x":37.3,"y":47.8,"c":54},{"x":40.3,"y":47.8,"c":39},{"x":43.3,"y":47.8,"c":33},{"x":46.3,"y":47.8,"c":33},{"x":49.3,"y":47.8,"c":34},{"x":52.3,"y":47.8,"c":36},
{"x":29.8,"y":50.4,"c":97},{"x":32.8,"y":50.4,"c":83},{"x":35.8,"y":50.4,"c":68},{"x":38.8,"y":50.4,"c":51},{"x":41.8,"y":50.4,"c":39},{"x":44.8,"y":50.4,"c":35},{"x":47.8,"y":50.4,"c":34},{"x":50.8,"y":50.4,"c":36},
{"x":31.3,"y":53,"c":100},{"x":34.3,"y":53,"c":84},{"x":37.3,"y":53,"c":66},{"x":40.3,"y":53,"c":45},{"x":43.3,"y":53,"c":38},{"x":46.3,"y":53,"c":34},{"x":49.3,"y":53,"c":36},
{"x":32.8,"y":55.6,"c":99},{"x":35.8,"y":55.6,"c":82},{"x":38.8,"y":55.6,"c":60},{"x":41.8,"y":55.6,"c":43},{"x":44.8,"y":55.6,"c":34},{"x":47.8,"y":55.6,"c":35},
{"x":34.3,"y":58.2,"c":95},{"x":37.3,"y":58.2,"c":76},{"x":40.3,"y":58.2,"c":48},{"x":43.3,"y":58.2,"c":34},{"x":46.3,"y":58.2,"c":35},
{"x":35.8,"y":60.8,"c":88},{"x":38.8,"y":60.8,"c":62},{"x":41.8,"y":60.8,"c":35},{"x":44.8,"y":60.8,"c":34},
{"x":37.3,"y":63.4,"c":68},{"x":40.3,"y":63.4,"c":40},{"x":43.3,"y":63.4,"c":33},
{"x":38.8,"y":66,"c":37},{"x":41.8,"y":66,"c":32},
{"x":40.3,"y":68.6,"c":28}
]},
"hconcat":[
{"width":1108,"height":1097,"resolve":{"axis":{"x":"independent","y":"independent"}},"layer":[
{"data":{"name":"a"},"mark":{"type":"point","filled":true,"opacity":1,"clip":true,"shape":"M0,-1L0.82,-0.5L0.82,0.5L0,1L-0.82,0.5L-0.82,-0.5Z","size":2800},"encoding":{
"x":{"field":"x","type":"quantitative","scale":{"domain":[0,80],"nice":false,"zero":false},"axis":{"zindex":1,"orient":"bottom","values":[0,10,20,30,40,50,60,70,80],"ticks":false,"labelPadding":14}},
"y":{"field":"y","type":"quantitative","scale":{"domain":[0,71.4],"nice":false,"zero":false,"range":[1097,19]},"axis":{"zindex":1,"orient":"left","values":[0,10,20,30,40,50,60,70],"ticks":false,"labelPadding":7}},
"color":{"field":"c","type":"quantitative","legend":null,"scale":{"domain":[0,11,12.5,35,37.5,64,66,89,91,100],"range":["#00007f","#0000ff","#0000ff","#00e5f7","#14ffe2","#eeff08","#ffec00","#ff1300","#f30000","#7f0000"],"interpolate":"rgb"}}}},
{"data":{"name":"a"},"mark":{"type":"point","filled":true,"opacity":0.3,"clip":true,"shape":"M0,-1L0.82,-0.5L0.82,0.5L0,1L-0.82,0.5L-0.82,-0.5Z","size":8400},"encoding":{
"x":{"field":"x","type":"quantitative","axis":{"zindex":1,"orient":"bottom","values":[0,10,20,30,40,50,60,70,80],"domain":false,"labels":false,"offset":-11}},
"y":{"field":"y","type":"quantitative","axis":{"zindex":1,"orient":"left","values":[0,10,20,30,40,50,60,70],"domain":false,"labels":false,"offset":-11}},
"color":{"field":"c","type":"quantitative","legend":null},"order":{"field":"y","sort":"ascending"}}},
{"data":{"name":"a"},"mark":{"type":"point","filled":true,"opacity":0.3,"clip":true,"shape":"M0,-1L0.82,-0.5L0.82,0.5L0,1L-0.82,0.5L-0.82,-0.5Z","size":8400},"encoding":{
"x":{"field":"x","type":"quantitative","axis":{"zindex":1,"orient":"top","values":[0,10,20,30,40,50,60,70,80],"domain":false,"labels":false,"offset":-30}},
"y":{"field":"y","type":"quantitative","axis":{"zindex":1,"orient":"right","values":[0,10,20,30,40,50,60,70],"domain":false,"labels":false,"offset":-11}},
"color":{"field":"c","type":"quantitative","legend":null},"order":{"field":"y","sort":"descending"}}},
{"data":{"name":"maskA"},"mark":{"type":"area","color":"white"},"encoding":{
"x":{"field":"x","type":"quantitative","axis":{"zindex":1,"orient":"top","values":[],"ticks":false,"labels":false,"offset":-19}},
"y":{"field":"y","type":"quantitative","axis":{"zindex":1,"orient":"right","values":[],"ticks":false,"labels":false}},
"y2":{"datum":72.6}}},
{"data":{"name":"base"},"mark":{"type":"area","color":"white"},"encoding":{"x":{"field":"x","type":"quantitative","axis":null},"y":{"datum":0.8,"axis":null},"y2":{"datum":0}}},
{"data":{"values":[{"t":"(a)"}]},"mark":{"type":"text","font":"Liberation Serif","fontWeight":"bold","fontSize":78,"color":"#000"},"encoding":{"text":{"field":"t"},"x":{"datum":49.4,"axis":null},"y":{"datum":-14.8,"axis":null}}}
]},
{"width":54,"height":1097,"data":{"name":"barA"},"resolve":{"axis":{"x":"independent","y":"independent"}},"layer":[
{"mark":{"type":"rect"},"encoding":{
"x":{"datum":0,"scale":{"domain":[0,1],"nice":false},"axis":{"zindex":1,"orient":"bottom","ticks":false,"labels":false}},"x2":{"datum":1},
"y":{"field":"p","type":"quantitative","scale":{"domain":[0,10],"nice":false,"range":[1097,19]},"axis":{"zindex":1,"orient":"right","values":[0,1,2,3,4,5,6,7,8,9],"ticks":false,"labelPadding":14,"labelExpr":"['0.000004','0.000748','0.001277','0.001599','0.002034','0.002711','0.003642','0.004828','0.006504','0.008813'][datum.value]"}},"y2":{"field":"q"},
"color":{"field":"c","type":"quantitative","legend":null,"scale":{"domain":[0,11,12.5,35,37.5,64,66,89,91,100],"range":["#00007f","#0000ff","#0000ff","#00e5f7","#14ffe2","#eeff08","#ffec00","#ff1300","#f30000","#7f0000"],"interpolate":"rgb"}}}},
{"mark":{"type":"rect"},"encoding":{
"x":{"datum":0,"axis":{"zindex":1,"orient":"top","ticks":false,"labels":false,"offset":-19}},"x2":{"datum":1},
"y":{"field":"p","type":"quantitative","axis":{"zindex":1,"orient":"left","ticks":false,"labels":false}},"y2":{"field":"q"},
"color":{"field":"c","type":"quantitative","legend":null}}},
{"mark":{"type":"rect"},"encoding":{
"x":{"datum":0,"axis":null},"x2":{"datum":1},
"y":{"field":"p","type":"quantitative","axis":{"zindex":1,"orient":"right","values":[1,2,3,4,5,6,7,8,9],"domain":false,"labels":false,"offset":-11}},"y2":{"field":"q"},
"color":{"field":"c","type":"quantitative","legend":null}}}
]},
{"width":207,"height":10,"data":{"values":[{"s":0}]},"mark":{"type":"rule","opacity":0},"encoding":{}},
{"width":1128,"height":1097,"resolve":{"axis":{"x":"independent","y":"independent"}},"layer":[
{"data":{"name":"b"},"mark":{"type":"point","filled":true,"opacity":1,"clip":true,"shape":"M0,-1L0.82,-0.5L0.82,0.5L0,1L-0.82,0.5L-0.82,-0.5Z","size":2900},"encoding":{
"x":{"field":"x","type":"quantitative","scale":{"domain":[0,80],"nice":false,"zero":false},"axis":{"zindex":1,"orient":"bottom","values":[0,10,20,30,40,50,60,70,80],"ticks":false,"labelPadding":14}},
"y":{"field":"y","type":"quantitative","scale":{"domain":[0,71.3],"nice":false,"zero":false},"axis":{"zindex":1,"orient":"left","values":[0,10,20,30,40,50,60,70],"ticks":false,"labelPadding":7}},
"color":{"field":"c","type":"quantitative","legend":null,"scale":{"domain":[0,11,12.5,35,37.5,64,66,89,91,100],"range":["#00007f","#0000ff","#0000ff","#00e5f7","#14ffe2","#eeff08","#ffec00","#ff1300","#f30000","#7f0000"],"interpolate":"rgb"}}}},
{"data":{"name":"b"},"mark":{"type":"point","filled":true,"opacity":0.3,"clip":true,"shape":"M0,-1L0.82,-0.5L0.82,0.5L0,1L-0.82,0.5L-0.82,-0.5Z","size":8700},"encoding":{
"x":{"field":"x","type":"quantitative","axis":{"zindex":1,"orient":"bottom","values":[0,10,20,30,40,50,60,70,80],"domain":false,"labels":false,"offset":-11}},
"y":{"field":"y","type":"quantitative","axis":{"zindex":1,"orient":"left","values":[0,10,20,30,40,50,60,70],"domain":false,"labels":false,"offset":-11}},
"color":{"field":"c","type":"quantitative","legend":null},"order":{"field":"y","sort":"ascending"}}},
{"data":{"name":"b"},"mark":{"type":"point","filled":true,"opacity":0.3,"clip":true,"shape":"M0,-1L0.82,-0.5L0.82,0.5L0,1L-0.82,0.5L-0.82,-0.5Z","size":8700},"encoding":{
"x":{"field":"x","type":"quantitative","axis":{"zindex":1,"orient":"top","values":[0,10,20,30,40,50,60,70,80],"domain":false,"labels":false,"offset":-11}},
"y":{"field":"y","type":"quantitative","axis":{"zindex":1,"orient":"right","values":[0,10,20,30,40,50,60,70],"domain":false,"labels":false,"offset":-11}},
"color":{"field":"c","type":"quantitative","legend":null},"order":{"field":"y","sort":"descending"}}},
{"data":{"name":"maskB"},"mark":{"type":"area","color":"white"},"encoding":{
"x":{"field":"x","type":"quantitative","axis":{"zindex":1,"orient":"top","values":[],"ticks":false,"labels":false}},
"y":{"field":"y","type":"quantitative","axis":{"zindex":1,"orient":"right","values":[],"ticks":false,"labels":false}},
"y2":{"datum":71.3}}},
{"data":{"name":"base"},"mark":{"type":"area","color":"white"},"encoding":{"x":{"field":"x","type":"quantitative","axis":null},"y":{"datum":0.8,"axis":null},"y2":{"datum":0}}},
{"data":{"values":[{"t":"(b)"}]},"mark":{"type":"text","font":"Liberation Serif","fontWeight":"bold","fontSize":78,"color":"#000"},"encoding":{"text":{"field":"t"},"x":{"datum":48.4,"axis":null},"y":{"datum":-14.5,"axis":null}}}
]},
{"width":55,"height":1097,"data":{"name":"barB"},"resolve":{"axis":{"x":"independent","y":"independent"}},"layer":[
{"mark":{"type":"rect"},"encoding":{
"x":{"datum":0,"scale":{"domain":[0,1],"nice":false},"axis":{"zindex":1,"orient":"bottom","ticks":false,"labels":false}},"x2":{"datum":1},
"y":{"field":"p","type":"quantitative","scale":{"domain":[0,10],"nice":false},"axis":{"zindex":1,"orient":"right","values":[0,1,2,3,4,5,6,7,8,9],"ticks":false,"labelPadding":14,"labelExpr":"['0.00001','0.00293','0.00562','0.00796','0.00965','0.01082','0.01252','0.01499','0.01812','0.02288'][datum.value]"}},"y2":{"field":"q"},
"color":{"field":"c","type":"quantitative","legend":null,"scale":{"domain":[0,11,12.5,35,37.5,64,66,89,91,100],"range":["#00007f","#0000ff","#0000ff","#00e5f7","#14ffe2","#eeff08","#ffec00","#ff1300","#f30000","#7f0000"],"interpolate":"rgb"}}}},
{"mark":{"type":"rect"},"encoding":{
"x":{"datum":0,"axis":{"zindex":1,"orient":"top","ticks":false,"labels":false}},"x2":{"datum":1},
"y":{"field":"p","type":"quantitative","axis":{"zindex":1,"orient":"left","ticks":false,"labels":false}},"y2":{"field":"q"},
"color":{"field":"c","type":"quantitative","legend":null}}},
{"mark":{"type":"rect"},"encoding":{
"x":{"datum":0,"axis":null},"x2":{"datum":1},
"y":{"field":"p","type":"quantitative","axis":{"zindex":1,"orient":"right","values":[1,2,3,4,5,6,7,8,9],"domain":false,"labels":false,"offset":-11}},"y2":{"field":"q"},
"color":{"field":"c","type":"quantitative","legend":null}}}
]}
]}
